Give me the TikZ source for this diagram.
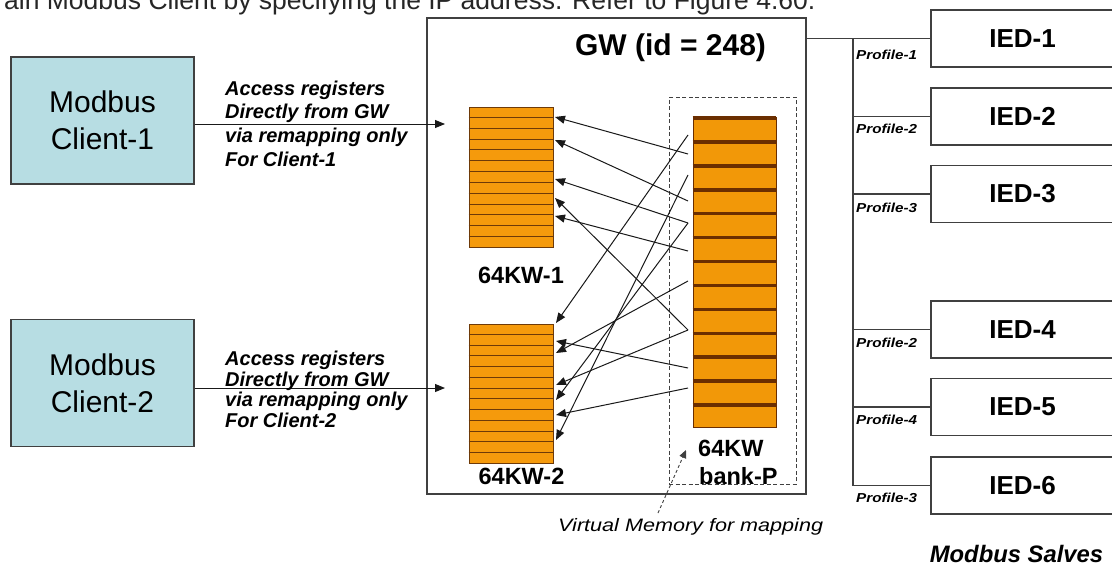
\documentclass[tikz,border=0pt]{standalone}
\usepackage{fontspec}
\setmainfont{Liberation Sans}
\newfontfamily\vmfont[FakeStretch=1.2]{Liberation Sans}
\newfontfamily\proffont[FakeStretch=1.17]{Liberation Sans}
\usetikzlibrary{arrows.meta,calc}
\newcommand{\setfs}[2]{\fontsize{#1}{#2}\selectfont}
\definecolor{clientblue}{HTML}{B7DDE3}
\definecolor{regorange}{HTML}{F59A0C}
\definecolor{regline}{HTML}{6E3A08}
\definecolor{bankline}{HTML}{6B2E00}
\definecolor{bankside}{HTML}{F29808}
\definecolor{bankmid}{HTML}{F9AA28}
\definecolor{boxgray}{HTML}{404040}
\begin{document}
\begin{tikzpicture}[x=1pt,y=-1pt,
  frame/.style={draw=boxgray,line width=1.1pt,inner sep=0pt},
  clientbox/.style={frame,fill=clientblue,minimum width=183pt,minimum height=127pt,align=center,font=\setfs{30}{37}},
  iedbox/.style={frame,minimum width=183pt,minimum height=57pt,font=\bfseries\setfs{26}{26}},
  regblock/.style={draw=regline,line width=0.8pt,fill=regorange,minimum width=84pt,inner sep=0pt},
  regsep/.style={draw=regline,line width=1.1pt},
  banksep/.style={draw=bankline,line width=3.5pt},
  conn/.style={draw=black!90,line width=1pt,-{Triangle[length=10pt,width=8pt]}},
  acclabel/.style={anchor=north west,inner sep=0pt,align=left,font=\bfseries\itshape\setfs{20}{23.7}},
  proflabel/.style={anchor=base west,inner sep=0pt,font=\proffont\bfseries\itshape\setfs{13}{13}},
  kwlabel/.style={inner sep=0pt,font=\bfseries\setfs{23.5}{23.5}},
  bus/.style={draw=boxgray,line width=1.1pt}
]
\useasboundingbox (0,0) rectangle (1112,573);
\clip (0,0) rectangle (1112,573);
\fill[white] (0,0) rectangle (1112,573);

% clipped page text at top
\node[anchor=base west,inner sep=0pt,font=\setfs{26.5}{26.5},text=black!85] (toptext) at (4,9.5) {ain Modbus Client by specifying the IP address. Refer to Figure 4.60.};

% clients
\node[clientbox] (c1) at (102.5,120.5) {Modbus\\Client-1};
\node[clientbox] (c2) at (102.5,383) {Modbus\\Client-2};

% gateway
\node[frame,minimum width=379pt,minimum height=476pt] (gw) at (616.5,256) {};
\node[anchor=base,inner sep=0pt,font=\bfseries\setfs{30}{30}] (gwt) at (670.5,55) {GW (id = 248)};

% virtual memory dashed area
\node[draw=boxgray,line width=0.9pt,dash pattern=on 4pt off 2.5pt,minimum width=127pt,minimum height=387pt,inner sep=0pt] (vm) at (732.5,290.5) {};

% register blocks
\node[regblock,minimum height=140pt] (kw1) at (511,177) {};
\foreach \k in {1,...,12}
  \draw[regsep] ($(kw1.north west)!\k/13!(kw1.south west)$) -- ($(kw1.north east)!\k/13!(kw1.south east)$);
\node[regblock,minimum height=139pt] (kw2) at (511,393.5) {};
\foreach \k in {1,...,12}
  \draw[regsep] ($(kw2.north west)!\k/13!(kw2.south west)$) -- ($(kw2.north east)!\k/13!(kw2.south east)$);
\node[draw=bankline,line width=0.8pt,left color=bankside,middle color=bankmid,right color=bankside,minimum width=83pt,minimum height=310pt,inner sep=0pt] (bank) at (734.5,272) {};
\foreach \k in {0,...,12}
  \draw[banksep] ($(bank.north west)!\k/13!(bank.south west)+(0,1.5)$) -- ($(bank.north east)!\k/13!(bank.south east)+(0,1.5)$);

\node[kwlabel,anchor=base] (kw1t) at (521,283) {64KW-1};
\node[kwlabel,anchor=base] (kw2t) at (521.5,484) {64KW-2};
\node[kwlabel,anchor=base west] (bankt1) at (698,456) {64KW};
\node[kwlabel,anchor=base west] (bankt2) at (699,484) {bank-P};

% client access arrows and labels
\coordinate (a1) at (445,124);
\coordinate (a2) at (445,388);
\draw[conn] (c1.east |- a1) -- (a1);
\draw[conn] (c2.east |- a2) -- (a2);
\node[acclabel] (l1) at (225,80.5) {Access registers\\Directly from GW\\via remapping only\\For Client-1};
\node[acclabel,font=\bfseries\itshape\setfs{20}{20.7}] (l2) at (225,350.7) {Access registers\\Directly from GW\\via remapping only\\For Client-2};

% mapping connectors
\foreach \n/\y in {b1/135,b2/154,b3/175,b4/201,b5/223,b6/251,b7/281,b8/330,b9/368,b10/388}
  \coordinate (\n) at (688,\y);
\foreach \n/\y in {t1/117,t2/140,t3/179,t4/198,t5/216}
  \coordinate (\n) at (555,\y);
\foreach \n/\y in {u1/323,u2/341,u3/353,u4/385,u5/400,u6/415,u7/440}
  \coordinate (\n) at (556,\y);
\foreach \s/\e in {b2/t1,b4/t2,b5/t3,b8/t4,b6/t5,b1/u1,b9/u2,b7/u3,b8/u4,b5/u5,b10/u6,b3/u7}
  \draw[conn] (\s) -- (\e);

% virtual memory note
\node[anchor=base west,inner sep=0pt,font=\vmfont\itshape\setfs{18}{18}] (vmt) at (558,531) {Virtual Memory for mapping};
\coordinate (vmtail) at (658,513);
\coordinate (vmhead) at (686,450);
\draw[draw=boxgray,line width=0.9pt,dash pattern=on 3pt off 2.5pt,-{Triangle[length=8pt,width=7pt]}] (vmtail) -- (vmhead);

% slaves
\foreach \i/\y in {1/38.5,2/116.5,3/194,4/329.5,5/407,6/485.5}
  \node[iedbox] (ied\i) at (1022.5,\y) {IED-\i};
\coordinate (busx) at (853,0);
\draw[bus] (gw.east |- ied1.west) -- (ied1.west);
\draw[bus] (busx |- ied1.west) -- (busx |- ied6.west);
\foreach \i in {2,...,6}
  \draw[bus] (busx |- ied\i.west) -- (ied\i.west);
\foreach \i/\t/\y in {1/Profile-1/59,2/Profile-2/133.5,3/Profile-3/212,4/Profile-2/347.5,5/Profile-4/424.5,6/Profile-3/502.5}
  \node[proflabel] (prof\i) at (856,\y) {\t};
\node[anchor=base,inner sep=0pt,font=\bfseries\itshape\setfs{23.8}{23.8}] (slaves) at (1016.5,562) {Modbus Salves};
\end{tikzpicture}
\end{document}
